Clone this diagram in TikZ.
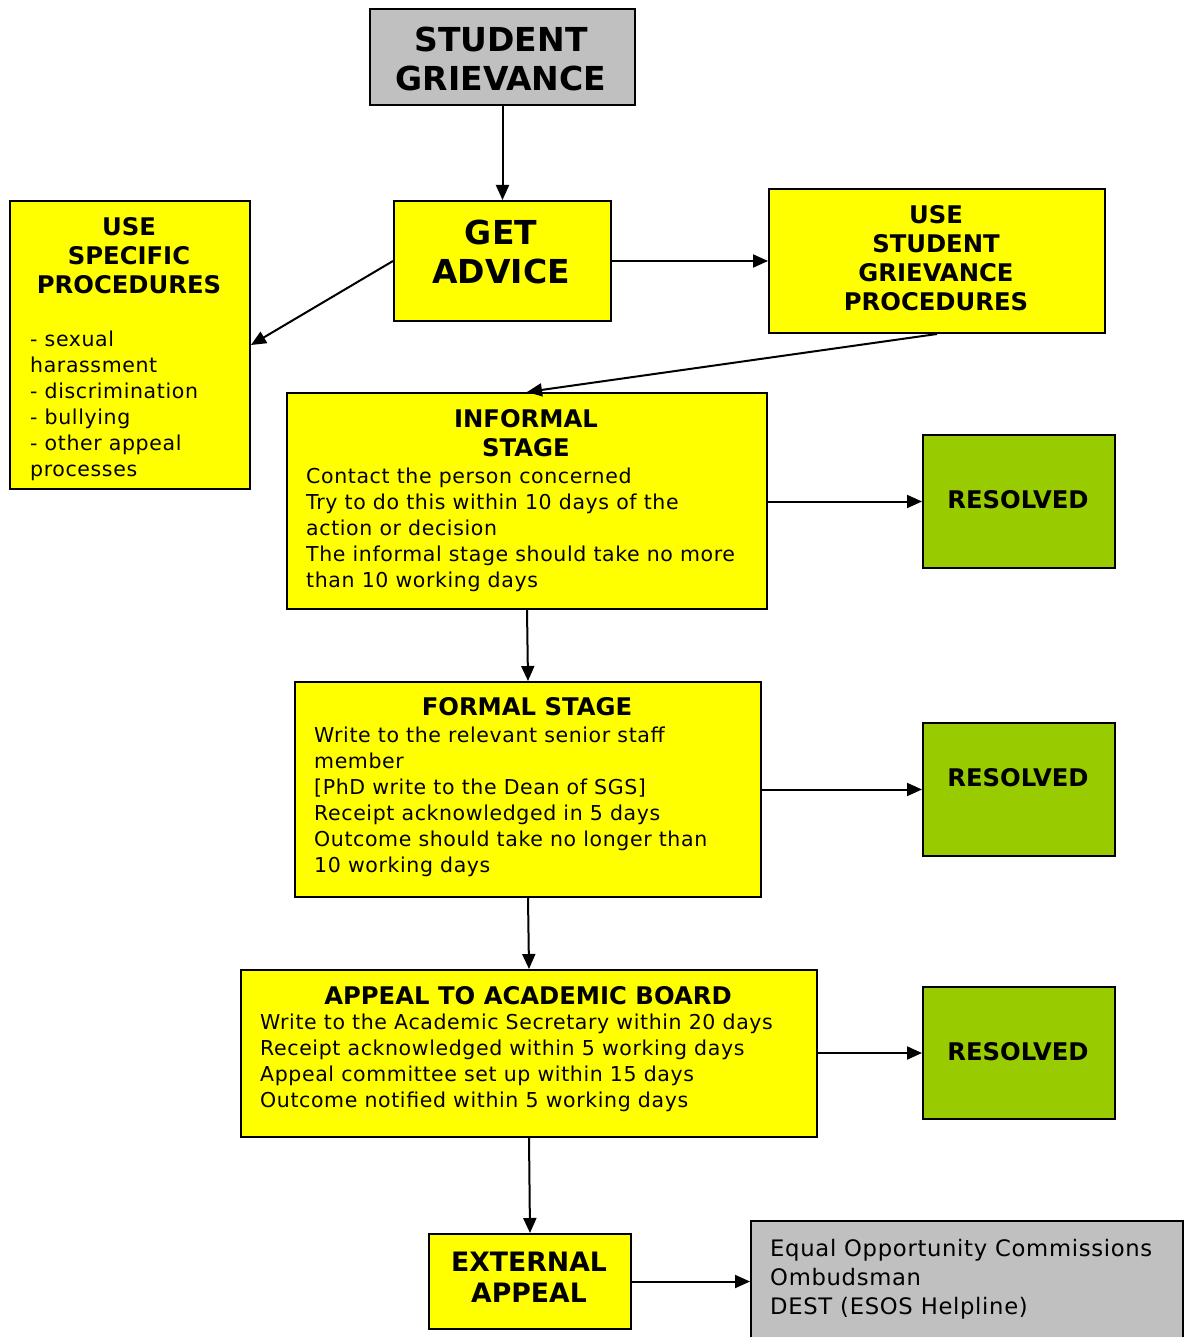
\documentclass[tikz,border=0pt]{standalone}
\usepackage{fontspec}
\setmainfont{DejaVu Sans}
\newfontfamily\bodyfont[LetterSpace=3]{DejaVu Sans}
\usetikzlibrary{arrows.meta}
\definecolor{boxyellow}{HTML}{FFFF00}
\definecolor{boxgray}{HTML}{C0C0C0}
\definecolor{boxgreen}{HTML}{99CC00}
\tikzset{
  box/.style={draw=black, line width=2pt, inner sep=0pt, anchor=north west},
  ybox/.style={box, fill=boxyellow},
  gbox/.style={box, fill=boxgreen},
  graybox/.style={box, fill=boxgray},
  conn/.style={line width=2pt, -{Triangle[length=15pt,width=13pt]}},
  head/.style={inner sep=0pt, align=center, font=\bfseries\fontsize{24.3}{29}\selectfont},
  bigtxt/.style={inner sep=0pt, align=center, font=\bfseries\fontsize{33}{39}\selectfont},
  body/.style={inner sep=0pt, align=left, anchor=west, font=\bodyfont\fontsize{20.5}{26}\selectfont},
}
\begin{document}
\begin{tikzpicture}[x=1pt,y=-1pt]
\useasboundingbox (0,0) rectangle (1187,1337);
% boxes
\node[graybox, minimum width=265pt, minimum height=96pt] (sg) at (369,8) {};
\node[ybox, minimum width=217pt, minimum height=120pt] (ga) at (393,200) {};
\node[ybox, minimum width=240pt, minimum height=288pt] (sp) at (9,200) {};
\node[ybox, minimum width=336pt, minimum height=144pt] (us) at (768,188) {};
\node[ybox, minimum width=480pt, minimum height=216pt] (inf) at (286,392) {};
\node[gbox, minimum width=192pt, minimum height=133pt] (r1) at (922,434) {};
\node[ybox, minimum width=466pt, minimum height=215pt] (frm) at (294,681) {};
\node[gbox, minimum width=192pt, minimum height=133pt] (r2) at (922,722) {};
\node[ybox, minimum width=576pt, minimum height=167pt] (ap) at (240,969) {};
\node[gbox, minimum width=192pt, minimum height=132pt] (r3) at (922,986) {};
\node[ybox, minimum width=202pt, minimum height=95pt] (ex) at (428,1233) {};
\node[graybox, minimum width=432pt, minimum height=125pt] (oth) at (750,1220) {};
% texts
\node[bigtxt] (sgt) at (501,59) {STUDENT\\GRIEVANCE};
\node[bigtxt] (gat) at (501,252) {GET\\ADVICE};
\node[head] (spt) at (129,256) {USE\\SPECIFIC\\PROCEDURES};
\node[body] (spb) at (30,406) {- sexual\\harassment\\- discrimination\\- bullying\\- other appeal\\processes};
\node[head] (ust) at (936,258.5) {USE\\STUDENT\\GRIEVANCE\\PROCEDURES};
\node[head] (inft) at (526,433.5) {INFORMAL\\STAGE};
\node[body] (infb) at (306,530) {Contact the person concerned\\Try to do this within 10 days of the\\action or decision\\The informal stage should take no more\\than 10 working days};
\node[head] (r1t) at (1018,500) {RESOLVED};
\node[head] (frmt) at (527,707) {FORMAL STAGE};
\node[body] (frmb) at (314,802) {Write to the relevant senior staff\\member\\{}[PhD write to the Dean of SGS]\\Receipt acknowledged in 5 days\\Outcome should take no longer than\\10 working days};
\node[head] (r2t) at (1018,778) {RESOLVED};
\node[head] (apt) at (528,996) {APPEAL TO ACADEMIC BOARD};
\node[body] (apb) at (260,1063) {Write to the Academic Secretary within 20 days\\Receipt acknowledged within 5 working days\\Appeal committee set up within 15 days\\Outcome notified within 5 working days};
\node[head] (r3t) at (1018,1052) {RESOLVED};
\node[inner sep=0pt, align=center, font=\bfseries\fontsize{26.7}{31}\selectfont] (ext) at (529,1277.5) {EXTERNAL\\APPEAL};
\node[body, font=\bodyfont\fontsize{22.7}{29}\selectfont] (otht) at (770,1279) {Equal Opportunity Commissions\\Ombudsman\\DEST (ESOS Helpline)};
% connectors
\draw[conn] (sg.south) -- (ga.north);
\draw[conn] (ga.west) -- (sp.east);
\draw[conn] (ga.east) -- (ga.east -| us.west);
\draw[conn] (us.south) -- (inf.north);
\draw[conn] (inf.east |- r1.west) -- (r1.west);
\draw[conn] (inf.south) -- (frm.north);
\draw[conn] (frm.east |- r2.west) -- (r2.west);
\draw[conn] (frm.south) -- (ap.north);
\draw[conn] (ap.east |- r3.west) -- (r3.west);
\draw[conn] (ap.south) -- (ex.north);
\draw[conn] (ex.east) -- (ex.east -| oth.west);
\end{tikzpicture}
\end{document}
